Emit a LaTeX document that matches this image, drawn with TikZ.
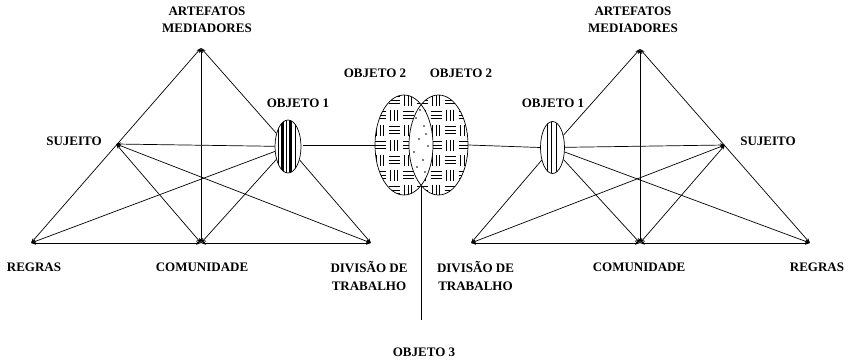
\documentclass[tikz,border=0pt]{standalone}
\usepackage{fontspec}
\setmainfont{Liberation Serif}
\usetikzlibrary{shapes.geometric,arrows.meta}
\tikzset{
  lbl/.style={font=\fontsize{13}{17.5}\selectfont\bfseries, align=center, inner sep=0pt},
  edge/.style={line width=0.7pt, black},
  tip/.style={-{Stealth[length=5pt,width=3.5pt]}},
  tips/.style={{Stealth[length=5pt,width=3.5pt]}-{Stealth[length=5pt,width=3.5pt]}},
  obj/.style={ellipse, draw, line width=0.7pt, inner sep=0pt},
}
\begin{document}
\begin{tikzpicture}[x=1pt,y=-1pt]
\useasboundingbox (0,0) rectangle (849,361);
% ---------- left triangle ----------
\coordinate (A1) at (201,48);
\coordinate (S1) at (116,144);
\coordinate (R1) at (31,243);
\coordinate (C1) at (201,243);
\coordinate (D1) at (371,243);
\begin{scope}
  \clip (288,146.5) ellipse (13 and 26.5);
  \foreach \x in {278,286.5,295} \draw[line width=0.7pt] (\x,115) -- (\x,180);
  \foreach \x in {282.5,290.5} \draw[line width=3pt] (\x,115) -- (\x,180);
\end{scope}
\node[obj, minimum width=26pt, minimum height=53pt] (o1) at (288,146.5) {};
\draw[edge,tips] (A1) -- (R1);
\draw[edge,tips] (A1) -- (C1);
\draw[edge,tips] (R1) -- (C1);
\draw[edge,tips] (C1) -- (D1);
\draw[edge,tips] (S1) -- (C1);
\draw[edge,tips] (S1) -- (D1);
\draw[edge,tip] (o1) -- (A1);
\draw[edge,tip] (o1) -- (D1);
\draw[edge,tip] (o1) -- (S1);
\draw[edge,tip] (o1) -- (R1);
\draw[edge,tip] (o1) -- (C1);
% ---------- right triangle ----------
\coordinate (A2) at (640,49);
\coordinate (S2) at (725,145);
\coordinate (D2) at (471,243);
\coordinate (C2) at (640,243);
\coordinate (R2) at (810,243);
\begin{scope}
  \clip (552.5,147.5) ellipse (12 and 26);
  \foreach \x in {547,551,556} \draw[line width=0.8pt] (\x,115) -- (\x,180);
\end{scope}
\node[obj, minimum width=24pt, minimum height=52pt] (o3) at (552.5,147.5) {};
\draw[edge,tips] (A2) -- (R2);
\draw[edge,tips] (A2) -- (C2);
\draw[edge,tips] (D2) -- (C2);
\draw[edge,tips] (C2) -- (R2);
\draw[edge,tips] (S2) -- (C2);
\draw[edge,tips] (S2) -- (D2);
\draw[edge,tip] (o3) -- (A2);
\draw[edge,tip] (o3) -- (D2);
\draw[edge,tip] (o3) -- (S2);
\draw[edge,tip] (o3) -- (R2);
\draw[edge,tip] (o3) -- (C2);
% ---------- objeto 2 ----------
\begin{scope}
  \clip (404,145) ellipse (29 and 50) (438.5,145) ellipse (29.5 and 50);
  \foreach \i in {0,...,7} {
    \foreach \j in {0,...,7} {
      \pgfmathsetmacro{\cx}{380+14*\i}
      \pgfmathsetmacro{\cy}{100+15*\j}
      \pgfmathtruncatemacro{\parity}{mod(\i+\j,2)}
      \ifnum\parity=0
        \foreach \d in {-3.5,0,3.5} \draw[line width=1pt] (\cx+\d,\cy-5.5) -- (\cx+\d,\cy+5.5);
      \else
        \foreach \d in {-3.5,0,3.5} \draw[line width=1pt] (\cx-5.5,\cy+\d) -- (\cx+5.5,\cy+\d);
      \fi
    }
  }
\end{scope}
\begin{scope}
  \clip (404,145) ellipse (29 and 50);
  \fill[white] (438.5,145) ellipse (29.5 and 50);
\end{scope}
\foreach \p in {(416,118),(424,126),(426,134),(419,139),(428,146),(414,152),(423,160),(417,167),(425,172),(420,110)}
  \fill \p circle (0.8);
\node[obj, minimum width=58pt, minimum height=100pt] (o2a) at (404,145) {};
\node[obj, minimum width=59pt, minimum height=100pt] (o2b) at (438.5,145) {};
\coordinate (x3) at (421.5,185.5);
\coordinate (x3e) at (421.5,320);
\coordinate (o1r) at ([shift={(2,-1.5)}]o1.east);
\draw[edge] (o1r) -- (o2a.west);
\draw[edge] (o2b.east) -- (o3.west);
\draw[edge] (x3) -- (x3e);
% ---------- labels ----------
\node[lbl] (l1) at (207,20) {ARTEFATOS\\MEDIADORES};
\node[lbl] (l2) at (633,20) {ARTEFATOS\\MEDIADORES};
\node[lbl] (l3) at (298,103) {OBJETO 1};
\node[lbl] (l4) at (553,103) {OBJETO 1};
\node[lbl] (l5) at (375,73) {OBJETO 2};
\node[lbl] (l6) at (461,73) {OBJETO 2};
\node[lbl] (l7) at (74,141) {SUJEITO};
\node[lbl] (l8) at (768,141) {SUJEITO};
\node[lbl] (l9) at (34,267) {REGRAS};
\node[lbl] (l10) at (817,267) {REGRAS};
\node[lbl] (l11) at (202,267) {COMUNIDADE};
\node[lbl] (l12) at (639,267) {COMUNIDADE};
\node[lbl] (l13) at (369,276) {DIVISÃO DE\\TRABALHO};
\node[lbl] (l14) at (475.5,276) {DIVISÃO DE\\TRABALHO};
\node[lbl] (l15) at (424,352) {OBJETO 3};
\end{tikzpicture}
\end{document}
